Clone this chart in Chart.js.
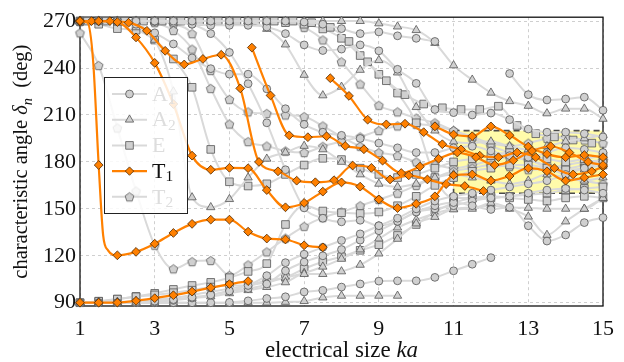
<!DOCTYPE html>
<html><head><meta charset="utf-8">
<script src="https://cdn.jsdelivr.net/npm/chart.js@4.4.1/dist/chart.umd.min.js"></script>
<style>html,body{margin:0;padding:0;background:#fff;}canvas{display:block;}</style>
</head><body>
<canvas id="c" width="624" height="362"></canvas>
<script>
// ---------------- data ----------------
const xTicks = [1, 3, 5, 7, 9, 11, 13, 15];
const yTicks = [90, 120, 150, 180, 210, 240, 270];
const STEP = 0.5;               // sampling step of the ka grid
const boxKa = [11, 15];         // highlighted ka range
const boxDelta = [160, 200];    // highlighted angle range

// A1 modes (circles): start ka, then values every 0.5
const a1_1s = 1;    const a1_1 = [270,270,270,270,270,270,270,270,270,270,270,270,269.4,268,265.2,262,263.1,260.6,259,257];
const a1_2s = 12.5; const a1_2 = [236.5,223,219.6,220.2,221.4,213];
const a1_3s = 1;    const a1_3 = [270,270,270,270,270,269,268,267.3,267.3,267.3,266.2,262,254.8,251.2,252.1,254.8,251,239.2,230.2,213.5,211.5,210,211.2,207,201,199,199,198,196];
const a1_4s = 1;    const a1_4 = [270,270,270,268,262.5,255.4,246.5,239.6,236.1,236.1,226.7,214,204,199,197,195,192,189,186,186,189,190,187,184,183,186,189,188,186];
const a1_5s = 1;    const a1_5 = [90,90,90,90.5,91,92,93.5,95,97.5,101,107.3,115.6,121,125.4,129.8,134,139.2,144,150,155,158,160,162,164,166,168,172,176,180];
const a1_6s = 1;    const a1_6 = [90,90,90,90,90.5,91.5,93,95,97.5,99,102,110.4,116,120,124,130,136,142,148,152,154,152,149.6,151,139.2,129.4,133.3,141.2,144.4];
const a1_7s = 1;    const a1_7 = [270,270,270,270,270,270,268,262,250,230,205,175,150.6,144,141.7,142.7,139.2,142,148,150,152,155,157,158,160,162,163,162,160];
const a1_8s = 1;    const a1_8 = [90,90,90,90,90,90,90,90,90.2,91.2,92.7,93.8,96.9,97.9,100,102,103.8,104,104,106.2,110.4,114.6,118.8];

// A2 modes (triangles)
const a2_1s = 1; const a2_1 = [270,270,270,270,270,270,270,270,270,270,270,270,270,270,270,270,268.5,266.5,264.2,256,241.7,232.5,224.2,218.8,215.8,211,214,214,207.5];
const a2_2s = 1; const a2_2 = [270,270,270,270,270,270,270,270,270,270,265,255,235.6,222.5,228,238.8,245,237.1,215,200,193,192,193,190,188,190,193,195,197];
const a2_3s = 1; const a2_3 = [270,270,269,266,258,225,157.3,151,156.2,170,182,186,190.2,188,180,172,166,164,166,170,172,170,168,166,168,172,170,168,170];
const a2_4s = 1; const a2_4 = [90,90,90,90.5,91,92,93,94,96,98,100,103,108.3,108.3,110,114.2,121.4,130.8,140.6,144.8,149.6,150,153.8,151,150.6,150,150,150,156.9];
const a2_5s = 1; const a2_5 = [90,90,90.5,91,92,93,95,97,99,101,103,106,109,113,118,124,131,138,143,147,150,151,152,150,145,133.3,141.9,150,156.9];
const a2_6s = 1; const a2_6 = [90,90,90,90,90,90,90,90,90,90,90,90.5,91,93.3,94.4,94.4,94.4,94.4];

// E modes (squares)
const e_1s = 1.2; const e_1 = [270,270,270,270,270,270,270,270,270,270,270,270,269,266,257,244,231.9,223,217,214.6,213.5,213.5,215.6,203.3,198,196,194,192];
const e_2s = 1;   const e_2 = [270,268,265.2,264.2,257.9,245.8,227.7,188,167.3,164.6,166,172,178,182.3,181.5,176,172,170,172,176,180,182,184,186,184,182,180,182,184];
const e_3s = 1;   const e_3 = [90,90.8,92.3,93.8,95,96.4,98,100,101,101.2,104.4,106.2,111.7,116.2,119.4,123.5,127.1,133,140,148,153.8,156.9,158,157,156,155,157,158,157];
const e_4s = 1;   const e_4 = [90,91,92.3,94,96,98.5,101,103,106,110,115,140,152,148.6,147.5,147,148,152,158,165,170,174,176,178,178,176,175,176,178];
const e_5s = 1;   const e_5 = [270,270,270,270,270,270,270,270,270,270,270,269,268,265,259,248,236,224,205,170,156.9,156.9,157,158,159,160,162,163,164];

// T2 modes (pentagons)
const t2_1s = 1; const t2_1 = [262.5,241.7,201.7,161.4,126.7,111.7,116.3,117,107.5,114.2,122.5,131.3,138.8,144.4,148,152,156,160,165,170,174,176,178,177,175,176,178,180,181];
const t2_2s = 1; const t2_2 = [270,270,270,270,269,264,252.1,227,204.2,193,190.2,187,186,190,193,196,200,203,204,203,200,196,192,190,192,195,196,194,192];
const t2_3s = 1; const t2_3 = [270,270,270,270,270,270,270,270,270,270,270,270,266,258,244,229.8,216.2,212,208,205,200,195,190,186,182,176,172,168,166];
const t2_4s = 1; const t2_4 = [270,270,270,270,270,268,262,238.5,220,212,211,210,209,203,196,190,186,184,180,178,176,178,181,183,181,178,176,178,181];

// T1 modes (orange diamonds): ka and angle
const t1_1ka = [1,1.2,1.35,1.5,1.62,1.75,2,2.5,3,3.5,4,4.5,5,5.5,6,6.5,7,7.5];
const t1_1 =   [270,269,245,178,133,123.5,120.3,122.5,127.7,134.6,140.4,143.1,143.1,135.4,131,130.4,126.7,125.4];
const t1_2ka = [1,1.5,2,2.5,3,3.5,4,4.5,5,5.5];
const t1_2 =   [90,90,90.1,91.2,92.9,94.8,97.1,99.6,101.9,103.8];
const t1_3ka = [1,1.5,2,2.5,3,3.5,4,4.5,5,5.5,6,6.5,7,7.5,8,8.5,9,9.5,10,10.5,11,11.5,12,12.5,13,13.5,14,14.5,15];
const t1_3 =   [270,270,269.4,259.6,243.3,217,184,175,176.2,176,162,151,153.8,161,166.9,164.2,156,150.5,153.2,158,171.5,172,168,171,176,174,168,170,172];
const t1_4ka = [1,1.31,1.8,2.3,2.79,3.28,3.79,4.29,4.78,5.29,5.79,6.3,6.8,7.3,7.8,8.3,8.8,9.3,9.8,10.3,10.8,11.3,11.8];
const t1_4 =   [270,270,270,269,263.8,251,242.3,245.8,248.5,227,180,174,168,167,168.3,177.7,176.2,168.8,171.4,168.8,165.8,164.6,161.4];
const t1_5ka = [5.6,6.1,6.6,7.1,7.6,8.1,8.6,9.1,9.6,10.1,10.6,11.1,11.6,12.1,12.6,13.1,13.6,14.1,14.6,15];
const t1_5 =   [253.1,222.5,197,195.8,196.4,190.2,188.1,180.8,172.9,177,182,186,183,178,181,187,190,186,180,178];
const t1_6ka = [7.7,8.2,8.7,9.2,9.7,10.2,10.7,11.2,11.7,12.2,12.7,13.2,13.7,14.2,14.7,15];
const t1_6 =   [233.5,222.2,207,204,204.4,199,191.3,188,184,183,186,183,176,172,174,177];
const t1_7ka = [10.5,11,11.5,12,12.5,13,13.5,14,14.5,15];
const t1_7 =   [202.7,197.5,196.4,202.7,197,189.8,185,183,184.4,183];

// ---------------- styling & build ----------------
const SERIF = '"Liberation Serif", "DejaVu Serif", serif';
const GRAY_LINE = '#d9d9d9', GRAY_FILL = '#d0d0d0', GRAY_EDGE = '#555555';
const ORANGE = '#ff8000', ORANGE_EDGE = '#4a2600';

function pentagon(r) {
  const s = Math.ceil(2 * r + 3);
  const cv = document.createElement('canvas'); cv.width = s; cv.height = s;
  const g = cv.getContext('2d');
  g.beginPath();
  for (let i = 0; i < 5; i++) {
    const a = -Math.PI / 2 + i * 2 * Math.PI / 5;
    const px = s / 2 + r * Math.cos(a), py = s / 2 + r * Math.sin(a) + 0.5;
    i ? g.lineTo(px, py) : g.moveTo(px, py);
  }
  g.closePath(); g.fillStyle = GRAY_FILL; g.fill();
  g.lineWidth = 0.8; g.strokeStyle = GRAY_EDGE; g.stroke();
  return cv;
}
const PENT = pentagon(4.6);
const MARK = {
  A1: { pointStyle: 'circle', pointRadius: 3.9 },
  A2: { pointStyle: 'triangle', pointRadius: 4.8 },
  E:  { pointStyle: 'rect', pointRadius: 5.4 },
  T2: { pointStyle: PENT, pointRadius: 4.6 },
};
function grid(start, ys) { return ys.map((y, i) => ({ x: +(start + STEP * i).toFixed(3), y })); }
function pairs(xs, ys) { return xs.map((x, i) => ({ x, y: ys[i] })); }

function grayDs(kind, data) {
  return Object.assign({
    data, borderColor: GRAY_LINE, borderWidth: 2,
    pointBackgroundColor: GRAY_FILL, pointBorderColor: GRAY_EDGE, pointBorderWidth: 0.8,
    cubicInterpolationMode: 'monotone', clip: false, order: 2, fill: false
  }, MARK[kind]);
}
function orangeDs(data, onlyGrid) {
  return {
    data, borderColor: ORANGE, borderWidth: 2.2,
    pointStyle: 'rectRot',
    pointRadius: onlyGrid ? (c => (c.raw && Number.isInteger(c.raw.x * 2)) ? 4.4 : 0) : 4.4,
    pointBackgroundColor: ORANGE, pointBorderColor: ORANGE_EDGE, pointBorderWidth: 0.8,
    cubicInterpolationMode: 'monotone', clip: false, order: 1, fill: false
  };
}

const datasets = [
  grayDs('A1', grid(a1_1s, a1_1)), grayDs('A1', grid(a1_2s, a1_2)), grayDs('A1', grid(a1_3s, a1_3)),
  grayDs('A1', grid(a1_4s, a1_4)), grayDs('A1', grid(a1_5s, a1_5)), grayDs('A1', grid(a1_6s, a1_6)),
  grayDs('A1', grid(a1_7s, a1_7)), grayDs('A1', grid(a1_8s, a1_8)),
  grayDs('A2', grid(a2_1s, a2_1)), grayDs('A2', grid(a2_2s, a2_2)), grayDs('A2', grid(a2_3s, a2_3)),
  grayDs('A2', grid(a2_4s, a2_4)), grayDs('A2', grid(a2_5s, a2_5)), grayDs('A2', grid(a2_6s, a2_6)),
  grayDs('E', grid(e_1s, e_1)), grayDs('E', grid(e_2s, e_2)), grayDs('E', grid(e_3s, e_3)),
  grayDs('E', grid(e_4s, e_4)), grayDs('E', grid(e_5s, e_5)),
  grayDs('T2', grid(t2_1s, t2_1)), grayDs('T2', grid(t2_2s, t2_2)), grayDs('T2', grid(t2_3s, t2_3)),
  grayDs('T2', grid(t2_4s, t2_4)),
  orangeDs(pairs(t1_1ka, t1_1), true), orangeDs(pairs(t1_2ka, t1_2)), orangeDs(pairs(t1_3ka, t1_3)),
  orangeDs(pairs(t1_4ka, t1_4)), orangeDs(pairs(t1_5ka, t1_5)), orangeDs(pairs(t1_6ka, t1_6)),
  orangeDs(pairs(t1_7ka, t1_7)),
];

// draw text with sub/italic parts; parts: [text, italic, sub]
function richWidth(ctx, parts, size) {
  let w = 0;
  for (const [t, it, sub] of parts) {
    ctx.font = (it ? 'italic ' : '') + (sub ? size * 0.7 : size) + 'px ' + SERIF;
    w += ctx.measureText(t).width;
  }
  return w;
}
function richDraw(ctx, parts, x, y, size) {
  for (const [t, it, sub] of parts) {
    const s = sub ? size * 0.7 : size;
    ctx.font = (it ? 'italic ' : '') + s + 'px ' + SERIF;
    ctx.fillText(t, x, sub ? y + size * 0.22 : y);
    x += ctx.measureText(t).width;
  }
}

const decor = {
  id: 'decor',
  beforeDatasetsDraw(chart) {
    const { ctx, chartArea: a, scales: { x, y } } = chart;
    ctx.save();
    const x1 = x.getPixelForValue(boxKa[0]), x2 = x.getPixelForValue(boxKa[1]);
    const y1 = y.getPixelForValue(boxDelta[1]), y2 = y.getPixelForValue(boxDelta[0]);
    ctx.fillStyle = 'rgb(255,251,170)';
    ctx.fillRect(x1, y1, x2 - x1, y2 - y1);
    ctx.setLineDash([6, 4]); ctx.lineWidth = 1.6; ctx.strokeStyle = '#4a4a4a';
    ctx.strokeRect(x1, y1, x2 - x1, y2 - y1);
    ctx.setLineDash([]);
    ctx.lineWidth = 1.3; ctx.strokeStyle = '#111';
    ctx.strokeRect(a.left, a.top, a.right - a.left, a.bottom - a.top);
    ctx.restore();
  },
  afterDraw(chart) {
    const { ctx, chartArea: a } = chart;
    ctx.save();
    // axis titles
    ctx.fillStyle = '#111'; ctx.textBaseline = 'alphabetic';
    const xt = [['electrical size ', false, false], ['ka', true, false]];
    const wx = richWidth(ctx, xt, 23);
    richDraw(ctx, xt, (a.left + a.right) / 2 - wx / 2, 357, 23);
    const yt = [['characteristic angle ', false, false], ['δ', true, false], ['n', true, true], ['  (deg)', false, false]];
    const wy = richWidth(ctx, yt, 20.5);
    ctx.translate(27, (a.top + a.bottom) / 2);
    ctx.rotate(-Math.PI / 2);
    richDraw(ctx, yt, -wy / 2, 0, 20.5);
    ctx.restore();

    // legend
    ctx.save();
    const L = { x: 104.5, y: 77.5, w: 83, h: 136 };
    ctx.fillStyle = 'rgba(255,255,255,0.85)';
    ctx.fillRect(L.x, L.y, L.w, L.h);
    ctx.lineWidth = 1; ctx.strokeStyle = '#222';
    ctx.strokeRect(L.x, L.y, L.w, L.h);
    const items = [
      { kind: 'A1', label: [['A', false, false], ['1', false, true]] },
      { kind: 'A2', label: [['A', false, false], ['2', false, true]] },
      { kind: 'E',  label: [['E', false, false]] },
      { kind: 'T1', label: [['T', false, false], ['1', false, true]] },
      { kind: 'T2', label: [['T', false, false], ['2', false, true]] },
    ];
    items.forEach((it, i) => {
      const cy = 94 + i * 25.7;
      const orange = it.kind === 'T1';
      ctx.beginPath(); ctx.moveTo(112, cy); ctx.lineTo(147, cy);
      ctx.lineWidth = orange ? 2.2 : 2; ctx.strokeStyle = orange ? ORANGE : GRAY_LINE; ctx.stroke();
      const m = orange ? { pointStyle: 'rectRot', pointRadius: 4.2 } : MARK[it.kind];
      ctx.fillStyle = orange ? ORANGE : GRAY_FILL;
      ctx.strokeStyle = orange ? ORANGE_EDGE : GRAY_EDGE; ctx.lineWidth = 0.8;
      Chart.helpers.drawPoint(ctx, { pointStyle: m.pointStyle, radius: m.pointRadius, rotation: 0, borderWidth: 0.8 }, 129.5, cy);
      ctx.fillStyle = orange ? '#111' : '#dddddd';
      ctx.textBaseline = 'middle';
      richDraw(ctx, it.label, 152, cy + 1, 22);
    });
    ctx.restore();
  }
};

new Chart(document.getElementById('c'), {
  type: 'line',
  data: { datasets },
  options: {
    responsive: false, animation: false, events: [],
    layout: { padding: { left: 0, right: 18, top: 10, bottom: 0 } },
    plugins: { legend: { display: false }, tooltip: { enabled: false } },
    elements: { line: { tension: 0 } },
    scales: {
      x: {
        type: 'linear', min: 1, max: 15,
        afterBuildTicks: s => { s.ticks = xTicks.map(v => ({ value: v })); },
        afterFit: s => { s.height = 56; },
        grid: { color: '#cfcfcf', lineWidth: 1, drawTicks: false },
        border: { display: false, dash: [3, 3] },
        ticks: { font: { family: SERIF, size: 22 }, color: '#111', padding: 10, maxRotation: 0, autoSkip: false }
      },
      y: {
        type: 'linear', min: 87.9, max: 272.5,
        afterBuildTicks: s => { s.ticks = yTicks.map(v => ({ value: v })); },
        afterFit: s => { s.width = 80; },
        grid: { color: '#cfcfcf', lineWidth: 1, drawTicks: false },
        border: { display: false, dash: [3, 3] },
        ticks: { font: { family: SERIF, size: 22 }, color: '#111', padding: 4, autoSkip: false }
      }
    }
  },
  plugins: [decor]
});
</script>
</body></html>
